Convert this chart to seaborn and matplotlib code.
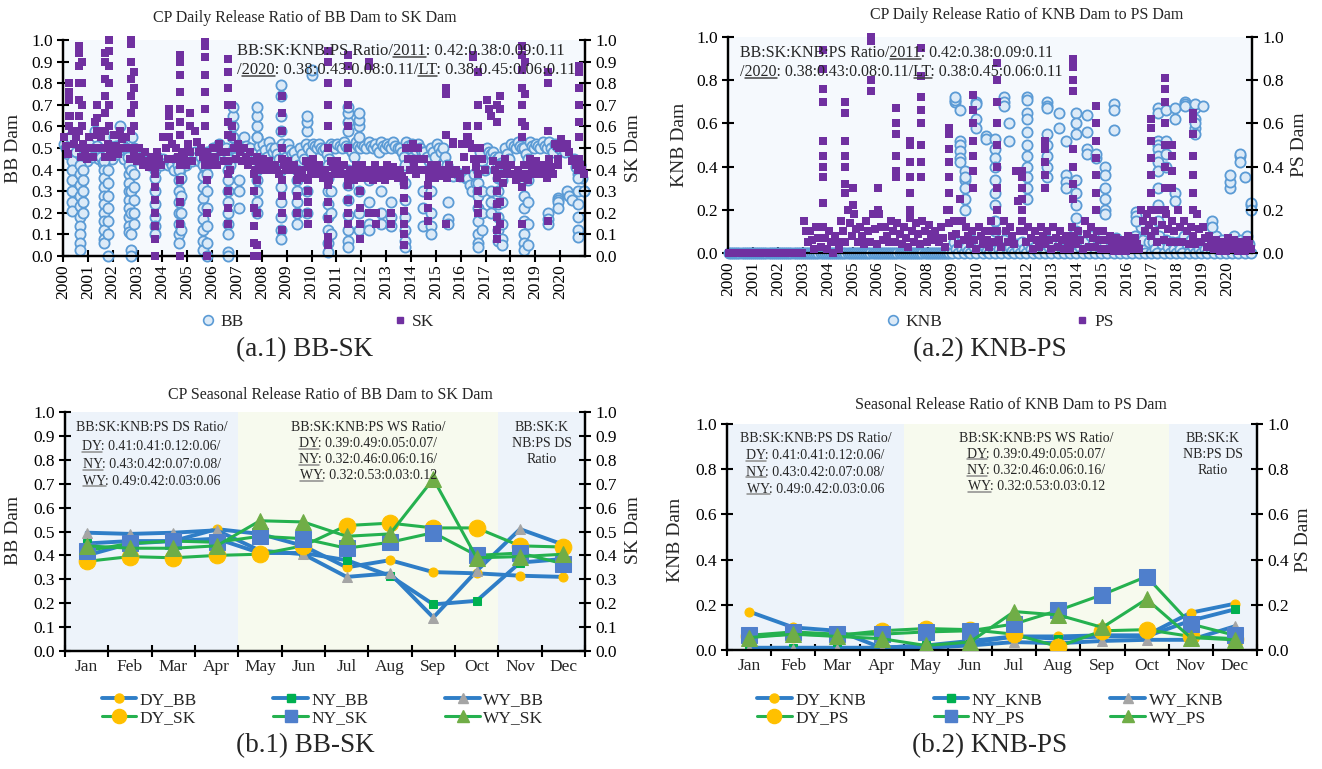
import numpy as np
import matplotlib
matplotlib.use("Agg")
import matplotlib.pyplot as plt
import seaborn as sns
from matplotlib.lines import Line2D
from matplotlib.ticker import FormatStrFormatter

# ---------------- data ----------------
years = [str(y) for y in range(2000, 2021)]
months = ['Jan', 'Feb', 'Mar', 'Apr', 'May', 'Jun', 'Jul', 'Aug', 'Sep', 'Oct', 'Nov', 'Dec']

# monthly samples of the daily release ratio (one row per year, 2000..2020)
bb_monthly = [
    0.52, 0.50, 0.47, 0.55, 0.50, 0.45, 0.48, 0.44, 0.40, 0.50, 0.47, 0.44,
    0.52, 0.49, 0.46, 0.58, 0.51, 0.45, 0.46, 0.43, 0.40, 0.55, 0.50, 0.45,
    0.55, 0.51, 0.47, 0.60, 0.52, 0.45, 0.50, 0.46, 0.42, 0.55, 0.50, 0.45,
    0.48, 0.46, 0.44, 0.46, 0.44, 0.42, 0.45, 0.43, 0.40, 0.46, 0.44, 0.42,
    0.45, 0.43, 0.42, 0.44, 0.42, 0.40, 0.45, 0.42, 0.40, 0.46, 0.44, 0.42,
    0.47, 0.45, 0.44, 0.48, 0.46, 0.44, 0.46, 0.43, 0.40, 0.48, 0.46, 0.44,
    0.50, 0.47, 0.45, 0.52, 0.49, 0.46, 0.50, 0.46, 0.42, 0.55, 0.50, 0.46,
    0.52, 0.49, 0.46, 0.55, 0.51, 0.47, 0.50, 0.47, 0.45, 0.55, 0.51, 0.47,
    0.52, 0.49, 0.46, 0.53, 0.50, 0.48, 0.50, 0.47, 0.45, 0.52, 0.49, 0.46,
    0.52, 0.49, 0.47, 0.48, 0.45, 0.42, 0.50, 0.47, 0.45, 0.52, 0.50, 0.48,
    0.52, 0.51, 0.50, 0.52, 0.50, 0.49, 0.50, 0.47, 0.45, 0.52, 0.51, 0.50,
    0.52, 0.51, 0.50, 0.53, 0.51, 0.50, 0.50, 0.48, 0.46, 0.53, 0.51, 0.50,
    0.52, 0.51, 0.50, 0.53, 0.51, 0.50, 0.52, 0.50, 0.48, 0.53, 0.51, 0.50,
    0.52, 0.51, 0.50, 0.53, 0.51, 0.50, 0.50, 0.48, 0.46, 0.53, 0.51, 0.50,
    0.52, 0.50, 0.49, 0.52, 0.50, 0.48, 0.48, 0.46, 0.44, 0.50, 0.48, 0.46,
    0.52, 0.50, 0.48, 0.50, 0.46, 0.42, 0.40, 0.38, 0.37, 0.39, 0.38, 0.37,
    0.38, 0.37, 0.36, 0.36, 0.33, 0.30, 0.38, 0.34, 0.30, 0.48, 0.44, 0.40,
    0.50, 0.48, 0.47, 0.48, 0.46, 0.45, 0.46, 0.43, 0.40, 0.50, 0.47, 0.45,
    0.52, 0.51, 0.50, 0.53, 0.51, 0.50, 0.50, 0.47, 0.45, 0.53, 0.51, 0.50,
    0.52, 0.51, 0.50, 0.53, 0.51, 0.50, 0.53, 0.50, 0.48, 0.52, 0.51, 0.50,
    0.52, 0.50, 0.48, 0.30, 0.28, 0.26, 0.45, 0.41, 0.38, 0.42, 0.36, 0.30,
]
sk_monthly = [
    0.55, 0.51, 0.47, 0.65, 0.58, 0.52, 0.55, 0.50, 0.46, 0.52, 0.48, 0.45,
    0.55, 0.50, 0.46, 0.62, 0.56, 0.50, 0.55, 0.50, 0.46, 0.52, 0.49, 0.46,
    0.56, 0.51, 0.47, 0.58, 0.54, 0.50, 0.55, 0.50, 0.45, 0.50, 0.47, 0.44,
    0.50, 0.46, 0.42, 0.48, 0.44, 0.41, 0.46, 0.43, 0.40, 0.48, 0.45, 0.42,
    0.55, 0.50, 0.45, 0.60, 0.52, 0.45, 0.50, 0.46, 0.42, 0.48, 0.45, 0.42,
    0.52, 0.48, 0.44, 0.58, 0.53, 0.48, 0.50, 0.46, 0.42, 0.48, 0.45, 0.42,
    0.50, 0.46, 0.42, 0.52, 0.48, 0.44, 0.48, 0.44, 0.40, 0.55, 0.50, 0.45,
    0.52, 0.48, 0.44, 0.50, 0.46, 0.42, 0.48, 0.44, 0.40, 0.46, 0.43, 0.40,
    0.45, 0.42, 0.40, 0.44, 0.42, 0.40, 0.42, 0.40, 0.38, 0.45, 0.42, 0.40,
    0.44, 0.42, 0.40, 0.42, 0.40, 0.38, 0.40, 0.38, 0.36, 0.44, 0.41, 0.38,
    0.45, 0.41, 0.38, 0.42, 0.39, 0.36, 0.40, 0.37, 0.35, 0.44, 0.41, 0.38,
    0.44, 0.41, 0.38, 0.42, 0.38, 0.35, 0.40, 0.37, 0.35, 0.42, 0.39, 0.36,
    0.42, 0.39, 0.36, 0.40, 0.37, 0.35, 0.42, 0.39, 0.36, 0.40, 0.37, 0.35,
    0.42, 0.40, 0.37, 0.41, 0.38, 0.36, 0.40, 0.37, 0.35, 0.50, 0.45, 0.40,
    0.45, 0.41, 0.38, 0.50, 0.45, 0.40, 0.45, 0.40, 0.36, 0.42, 0.39, 0.36,
    0.42, 0.40, 0.37, 0.40, 0.38, 0.36, 0.42, 0.40, 0.38, 0.40, 0.38, 0.36,
    0.52, 0.46, 0.40, 0.55, 0.52, 0.50, 0.45, 0.41, 0.38, 0.50, 0.45, 0.40,
    0.72, 0.68, 0.65, 0.44, 0.40, 0.36, 0.42, 0.38, 0.34, 0.45, 0.41, 0.38,
    0.42, 0.38, 0.35, 0.40, 0.36, 0.32, 0.42, 0.38, 0.35, 0.45, 0.41, 0.38,
    0.44, 0.41, 0.38, 0.42, 0.39, 0.36, 0.45, 0.41, 0.38, 0.52, 0.51, 0.50,
    0.54, 0.52, 0.50, 0.52, 0.48, 0.44, 0.45, 0.42, 0.40, 0.42, 0.40, 0.38,
]
knb_monthly = (
    [0.0] * 108 + [
    0.05, 0.02, 0.00, 0.04, 0.02, 0.00, 0.03, 0.01, 0.00, 0.06, 0.03, 0.00,
    0.05, 0.02, 0.00, 0.03, 0.01, 0.00, 0.04, 0.02, 0.00, 0.05, 0.02, 0.00,
    0.06, 0.03, 0.00, 0.03, 0.01, 0.00, 0.04, 0.02, 0.00, 0.05, 0.02, 0.00,
    0.04, 0.02, 0.00, 0.03, 0.01, 0.00, 0.05, 0.02, 0.00, 0.06, 0.03, 0.00,
    0.05, 0.02, 0.00, 0.04, 0.02, 0.00, 0.06, 0.03, 0.00, 0.08, 0.04, 0.00,
    0.06, 0.03, 0.00, 0.05, 0.02, 0.00, 0.08, 0.04, 0.00, 0.07, 0.03, 0.00,
    0.08, 0.04, 0.00, 0.06, 0.03, 0.00, 0.07, 0.03, 0.00, 0.05, 0.02, 0.00,
    0.06, 0.03, 0.00, 0.08, 0.04, 0.00, 0.12, 0.06, 0.00, 0.10, 0.05, 0.00,
    0.05, 0.02, 0.00, 0.08, 0.04, 0.00, 0.06, 0.03, 0.00, 0.05, 0.02, 0.00,
    0.05, 0.02, 0.00, 0.08, 0.04, 0.00, 0.06, 0.03, 0.00, 0.04, 0.02, 0.00,
    0.04, 0.02, 0.00, 0.05, 0.02, 0.00, 0.08, 0.04, 0.00, 0.06, 0.03, 0.00,
    0.04, 0.02, 0.00, 0.08, 0.04, 0.00, 0.06, 0.03, 0.00, 0.08, 0.04, 0.00,
])
ps_monthly = (
    [0.0] * 36 + [
    0.15, 0.10, 0.05, 0.10, 0.06, 0.02, 0.12, 0.07, 0.03, 0.12, 0.07, 0.02,
    0.10, 0.05, 0.00, 0.08, 0.05, 0.02, 0.15, 0.10, 0.05, 0.20, 0.14, 0.08,
    0.18, 0.11, 0.05, 0.12, 0.08, 0.04, 0.15, 0.10, 0.05, 0.18, 0.11, 0.04,
    0.18, 0.12, 0.06, 0.12, 0.08, 0.05, 0.15, 0.10, 0.05, 0.14, 0.09, 0.04,
    0.12, 0.07, 0.03, 0.16, 0.10, 0.05, 0.14, 0.09, 0.04, 0.15, 0.10, 0.05,
    0.13, 0.09, 0.06, 0.10, 0.07, 0.05, 0.12, 0.07, 0.03, 0.20, 0.14, 0.08,
    0.15, 0.09, 0.04, 0.25, 0.15, 0.06, 0.12, 0.08, 0.04, 0.10, 0.06, 0.02,
    0.12, 0.08, 0.04, 0.10, 0.06, 0.03, 0.15, 0.10, 0.05, 0.10, 0.06, 0.03,
    0.15, 0.10, 0.05, 0.12, 0.08, 0.04, 0.38, 0.24, 0.10, 0.15, 0.10, 0.05,
    0.12, 0.07, 0.02, 0.10, 0.06, 0.03, 0.12, 0.08, 0.04, 0.10, 0.06, 0.02,
    0.12, 0.07, 0.03, 0.10, 0.06, 0.02, 0.08, 0.05, 0.02, 0.12, 0.08, 0.04,
    0.10, 0.06, 0.02, 0.15, 0.09, 0.03, 0.12, 0.07, 0.03, 0.10, 0.06, 0.02,
    0.10, 0.06, 0.02, 0.08, 0.04, 0.01, 0.07, 0.04, 0.01, 0.06, 0.03, 0.01,
    0.08, 0.05, 0.02, 0.07, 0.04, 0.02, 0.20, 0.15, 0.10, 0.18, 0.13, 0.08,
    0.15, 0.10, 0.05, 0.20, 0.13, 0.06, 0.18, 0.11, 0.05, 0.15, 0.10, 0.05,
    0.20, 0.12, 0.05, 0.15, 0.10, 0.04, 0.12, 0.08, 0.04, 0.18, 0.11, 0.05,
    0.12, 0.07, 0.03, 0.08, 0.05, 0.02, 0.06, 0.03, 0.01, 0.05, 0.03, 0.01,
    0.07, 0.04, 0.02, 0.06, 0.03, 0.01, 0.05, 0.03, 0.01, 0.06, 0.04, 0.02,
])

bb_streaks = [
    (2000.35, [0.44, 0.40, 0.35, 0.30, 0.25, 0.21]),
    (2000.70, [0.42, 0.38, 0.33, 0.28, 0.23, 0.18, 0.14, 0.10, 0.06, 0.03]),
    (2000.80, [0.40, 0.35, 0.30, 0.25, 0.20]),
    (2001.65, [0.44, 0.40, 0.36, 0.32, 0.28, 0.24, 0.20, 0.16, 0.12, 0.08, 0.06]),
    (2001.80, [0.40, 0.34, 0.28, 0.22, 0.16, 0.10, 0.00]),
    (2002.65, [0.42, 0.38, 0.34, 0.30, 0.26, 0.22, 0.18, 0.14, 0.11]),
    (2002.75, [0.40, 0.30, 0.20, 0.10, 0.03, 0.00]),
    (2002.85, [0.38, 0.32, 0.26, 0.20, 0.15]),
    (2003.70, [0.36, 0.30, 0.24, 0.18, 0.14, 0.10]),
    (2004.65, [0.40, 0.35, 0.30, 0.25, 0.20, 0.15, 0.10, 0.06]),
    (2004.75, [0.36, 0.28, 0.20, 0.12]),
    (2005.65, [0.42, 0.37, 0.32, 0.27, 0.22, 0.17, 0.12, 0.07, 0.03]),
    (2005.80, [0.38, 0.30, 0.22, 0.14, 0.06, 0.00]),
    (2006.65, [0.45, 0.40, 0.35, 0.30, 0.25, 0.20, 0.15, 0.10, 0.02, 0.00]),
    (2006.85, [0.55, 0.60, 0.65, 0.69]),
    (2007.10, [0.35, 0.30, 0.22]),
    (2007.80, [0.55, 0.60, 0.65, 0.69, 0.40, 0.35, 0.30, 0.25, 0.20]),
    (2008.75, [0.58, 0.65, 0.74, 0.79, 0.40, 0.32, 0.25, 0.18, 0.12, 0.08]),
    (2009.40, [0.40, 0.35, 0.30, 0.25, 0.20, 0.15]),
    (2009.80, [0.58, 0.62, 0.65, 0.40, 0.30, 0.20]),
    (2010.00, [0.84, 0.86]),
    (2010.65, [0.42, 0.36, 0.30, 0.24, 0.18, 0.12, 0.06, 0.02]),
    (2010.80, [0.40, 0.30, 0.20, 0.10]),
    (2011.45, [0.58, 0.62, 0.66, 0.69, 0.40, 0.33, 0.26, 0.19, 0.12, 0.07, 0.04]),
    (2011.90, [0.55, 0.60, 0.63, 0.66, 0.40, 0.30, 0.20, 0.12]),
    (2012.30, [0.35, 0.25, 0.15, 0.12]),
    (2012.80, [0.30, 0.20, 0.15]),
    (2013.20, [0.25, 0.18, 0.14]),
    (2013.75, [0.42, 0.34, 0.26, 0.18, 0.12, 0.07, 0.04]),
    (2014.50, [0.30, 0.22, 0.14]),
    (2014.80, [0.40, 0.30, 0.20, 0.14, 0.10]),
    (2015.50, [0.25, 0.17, 0.15]),
    (2016.70, [0.40, 0.34, 0.28, 0.22, 0.16, 0.10, 0.06, 0.04]),
    (2016.85, [0.30, 0.20, 0.12]),
    (2017.20, [0.30, 0.25, 0.20]),
    (2017.50, [0.42, 0.36, 0.30, 0.24, 0.18, 0.12, 0.07]),
    (2017.65, [0.35, 0.25, 0.15, 0.08, 0.05]),
    (2018.55, [0.40, 0.35, 0.28, 0.22, 0.16, 0.10, 0.06, 0.03]),
    (2018.70, [0.35, 0.25, 0.15, 0.05]),
    (2019.50, [0.20, 0.17, 0.15]),
    (2019.90, [0.27, 0.26, 0.25, 0.22]),
    (2020.70, [0.42, 0.36, 0.30, 0.24, 0.18, 0.12, 0.09]),
    (2020.95, [0.30]),
]
sk_streaks = [
    (2000.25, [0.60, 0.65, 0.72, 0.80, 0.76]),
    (2000.65, [0.58, 0.65, 0.72, 0.80, 0.88, 0.94, 0.97]),
    (2000.75, [0.60, 0.70, 0.80, 0.90]),
    (2001.35, [0.58, 0.64, 0.70]),
    (2001.70, [0.58, 0.66, 0.74, 0.82, 0.90, 0.94]),
    (2001.85, [0.60, 0.70, 0.80, 0.88, 0.95, 1.00]),
    (2002.75, [0.58, 0.66, 0.74, 0.82, 0.90, 0.98, 1.00]),
    (2002.85, [0.60, 0.70, 0.78, 0.85]),
    (2003.70, [0.38, 0.32, 0.26, 0.20, 0.14, 0.08, 0.00]),
    (2004.25, [0.55, 0.60, 0.65, 0.68]),
    (2004.70, [0.56, 0.62, 0.68, 0.76, 0.84, 0.90, 0.93, 0.35, 0.25, 0.15, 0.00]),
    (2005.10, [0.60, 0.66]),
    (2005.70, [0.60, 0.68, 0.76, 0.84, 0.92, 0.97, 0.99]),
    (2005.80, [0.35, 0.20, 0.00]),
    (2006.65, [0.56, 0.62, 0.70, 0.78, 0.85, 0.91, 0.38, 0.30, 0.22, 0.15]),
    (2006.80, [0.60, 0.70]),
    (2007.70, [0.38, 0.30, 0.22, 0.14, 0.06, 0.00]),
    (2007.80, [0.35, 0.20, 0.05, 0.00]),
    (2008.80, [0.50, 0.58, 0.66, 0.74, 0.35, 0.28, 0.20, 0.12]),
    (2009.40, [0.35, 0.28, 0.20]),
    (2009.85, [0.35, 0.30, 0.25, 0.20, 0.15]),
    (2010.65, [0.50, 0.60, 0.70, 0.80, 0.90, 0.95, 0.33, 0.25, 0.17, 0.09, 0.05]),
    (2011.45, [0.50, 0.60, 0.70, 0.80, 0.88, 0.93, 0.33, 0.26, 0.20, 0.15]),
    (2011.95, [0.30, 0.22, 0.15, 0.08]),
    (2012.30, [0.88, 0.90, 0.20]),
    (2012.60, [0.15, 0.20]),
    (2013.20, [0.15, 0.20]),
    (2013.70, [0.33, 0.27, 0.21, 0.15, 0.10, 0.05]),
    (2014.10, [0.50, 0.52]),
    (2014.70, [0.33, 0.28, 0.22, 0.16]),
    (2015.40, [0.75, 0.78, 0.56, 0.15]),
    (2015.70, [0.52, 0.53]),
    (2016.25, [0.60, 0.55]),
    (2016.50, [0.92, 0.93]),
    (2016.70, [0.30, 0.24, 0.20, 0.60, 0.70, 0.85]),
    (2017.45, [0.30, 0.24, 0.18, 0.12, 0.08, 0.62, 0.70]),
    (2017.60, [0.25, 0.15, 0.68, 0.74]),
    (2018.45, [0.55, 0.62, 0.70, 0.78, 0.86, 0.93, 0.97, 0.15]),
    (2018.60, [0.60, 0.75, 0.90]),
    (2019.50, [0.80, 0.85, 0.16, 0.58]),
    (2019.90, [0.45, 0.42]),
    (2020.75, [0.55, 0.62, 0.70, 0.78, 0.85, 0.88, 0.45]),
]
knb_streaks = [
    (2009.10, [0.70, 0.71, 0.72]),
    (2009.30, [0.66, 0.52, 0.50, 0.47, 0.44, 0.42]),
    (2009.50, [0.38, 0.34, 0.30, 0.25, 0.20, 0.35]),
    (2009.95, [0.70, 0.69, 0.62, 0.58]),
    (2010.35, [0.54, 0.53]),
    (2010.70, [0.53, 0.48, 0.44, 0.40, 0.34, 0.28, 0.22, 0.15, 0.10]),
    (2011.05, [0.72, 0.70, 0.68]),
    (2011.25, [0.52, 0.60]),
    (2012.00, [0.72, 0.71, 0.65, 0.62, 0.56, 0.50, 0.45, 0.40, 0.35, 0.30, 0.25]),
    (2012.80, [0.70, 0.68, 0.67, 0.55, 0.50, 0.45, 0.40, 0.35]),
    (2013.25, [0.65, 0.58]),
    (2013.55, [0.36, 0.33, 0.30, 0.52]),
    (2013.95, [0.65, 0.60, 0.55, 0.34, 0.28, 0.22, 0.16, 0.10]),
    (2014.40, [0.64, 0.56, 0.48, 0.46]),
    (2014.75, [0.44, 0.46]),
    (2015.10, [0.40, 0.36, 0.30, 0.25, 0.20, 0.18]),
    (2015.45, [0.69, 0.66, 0.57]),
    (2016.35, [0.19, 0.17, 0.15]),
    (2017.25, [0.67, 0.65, 0.52, 0.50, 0.48, 0.45, 0.42, 0.38, 0.30, 0.22, 0.15]),
    (2017.55, [0.66, 0.52, 0.46, 0.40]),
    (2017.90, [0.67, 0.62, 0.28, 0.24]),
    (2018.30, [0.70, 0.69, 0.68]),
    (2018.70, [0.67, 0.62, 0.58, 0.55, 0.60, 0.69]),
    (2019.05, [0.68]),
    (2019.40, [0.15, 0.12]),
    (2020.10, [0.30, 0.33, 0.36]),
    (2020.50, [0.45, 0.46, 0.42]),
    (2020.70, [0.35]),
    (2020.95, [0.22, 0.23, 0.20]),
]
ps_streaks = [
    (2003.80, [0.23, 0.35, 0.40, 0.45, 0.52, 0.70, 0.76, 0.85, 0.94]),
    (2004.70, [0.28, 0.32, 0.40, 0.45, 0.52, 0.65, 0.70]),
    (2005.00, [0.30, 0.22]),
    (2005.75, [0.75, 0.80, 0.98, 1.00]),
    (2006.00, [0.30, 0.20]),
    (2006.75, [0.35, 0.38, 0.45, 0.55, 0.60, 0.67]),
    (2007.30, [0.20, 0.28, 0.35, 0.42, 0.50, 0.52]),
    (2007.75, [0.35, 0.42, 0.50, 0.60, 0.66, 0.72, 0.82, 0.95]),
    (2008.85, [0.20, 0.28, 0.35, 0.42, 0.48, 0.55, 0.58]),
    (2009.80, [0.30, 0.38, 0.45, 0.52, 0.60, 0.66, 0.73]),
    (2010.80, [0.20, 0.30, 0.40, 0.50, 0.60, 0.70, 0.80, 0.88]),
    (2011.80, [0.20, 0.25, 0.30, 0.35, 0.38]),
    (2012.72, [0.30, 0.36, 0.42, 0.48, 0.52]),
    (2013.82, [0.25, 0.32, 0.40, 0.48, 0.75, 0.80, 0.86, 0.90]),
    (2014.75, [0.20, 0.28, 0.36, 0.44, 0.52, 0.60, 0.68]),
    (2016.95, [0.20, 0.28, 0.36, 0.44, 0.52, 0.58, 0.62]),
    (2017.50, [0.20, 0.30, 0.40, 0.50, 0.60, 0.70, 0.76, 0.81]),
    (2017.80, [0.30, 0.38, 0.45, 0.50]),
    (2018.65, [0.20, 0.28, 0.36, 0.45, 0.55, 0.62, 0.65]),
]

# seasonal (monthly mean) release ratios
dy_bb = [0.40, 0.45, 0.46, 0.51, 0.49, 0.44, 0.35, 0.38, 0.33, 0.325, 0.315, 0.31]
ny_bb = [0.45, 0.46, 0.46, 0.47, 0.41, 0.41, 0.38, 0.315, 0.195, 0.21, 0.37, 0.385]
wy_bb = [0.495, 0.49, 0.495, 0.505, 0.42, 0.405, 0.31, 0.325, 0.14, 0.335, 0.51, 0.445]
dy_sk = [0.375, 0.395, 0.39, 0.40, 0.405, 0.44, 0.525, 0.535, 0.515, 0.515, 0.44, 0.435]
ny_sk = [0.42, 0.45, 0.46, 0.455, 0.48, 0.47, 0.43, 0.455, 0.495, 0.40, 0.41, 0.365]
wy_sk = [0.44, 0.43, 0.43, 0.44, 0.545, 0.54, 0.48, 0.49, 0.72, 0.39, 0.395, 0.405]

dy_knb = [0.17, 0.10, 0.085, 0.01, 0.02, 0.04, 0.06, 0.06, 0.065, 0.065, 0.165, 0.205]
ny_knb = [0.01, 0.01, 0.01, 0.01, 0.02, 0.03, 0.06, 0.05, 0.06, 0.06, 0.13, 0.18]
wy_knb = [0.005, 0.005, 0.005, 0.005, 0.01, 0.02, 0.035, 0.03, 0.04, 0.045, 0.045, 0.105]
dy_ps = [0.06, 0.07, 0.065, 0.085, 0.095, 0.09, 0.07, 0.015, 0.085, 0.09, 0.06, 0.05]
ny_ps = [0.065, 0.08, 0.07, 0.07, 0.08, 0.085, 0.115, 0.175, 0.245, 0.325, 0.115, 0.065]
wy_ps = [0.055, 0.07, 0.06, 0.05, 0.02, 0.035, 0.17, 0.155, 0.10, 0.225, 0.055, 0.045]

dry1 = ('Jan', 'Apr')
wet = ('May', 'Oct')
dry2 = ('Nov', 'Dec')

# ---------------- style ----------------
sns.set_style("ticks")
plt.rcParams['font.family'] = ['Liberation Serif', 'DejaVu Serif']
plt.rcParams['axes.linewidth'] = 1.6

C_BB_FACE = '#DCEAF7'
C_BB_EDGE = '#5B9BD5'
C_PURPLE = '#7030A0'
C_BG = '#F5F9FD'
C_BLUEBG = '#EDF3FA'
C_GREENBG = '#F7FAEE'
C_LBLUE = '#2F7EC7'
C_LGREEN = '#25B14F'
C_YEL = '#FFC000'
C_SQG = '#00B050'
C_GRAY = '#A5A5A5'
C_SQB = '#4F7FCC'
C_TRIG = '#70AD47'

W, H = 1322, 769
fig = plt.figure(figsize=(W / 100, H / 100), dpi=100)


def rect(l, r, t, b):
    return [l / W, 1 - b / H, (r - l) / W, (b - t) / H]


def expand(monthly, streaks):
    t = list(2000 + (np.arange(len(monthly)) + 0.5) / 12)
    v = list(monthly)
    for ts, vals in streaks:
        t += [ts] * len(vals)
        v += vals
    return np.array(t), np.array(v)


ul_jobs = []


def utext(ax, x, y, s, fs, ha, unders, col):
    t = ax.text(x, y, s, fontsize=fs, ha=ha, va='center', zorder=8)
    ul_jobs.append((t, s, unders, fs, col))


def style_ax(ax):
    ax.tick_params(axis='both', direction='inout', length=8, width=1.5,
                   labelsize=12.5, colors='black')
    ax.spines['top'].set_visible(False)
    for s in ['left', 'right', 'bottom']:
        ax.spines[s].set_color('black')


def daily_panel(r, lt_m, lt_s, rt_m, rt_s, step, title, title_x, title_y,
                llab, rlab, lab_xl, lab_xr, lab_y, ann_x, ann_y, ann_fs,
                leg_labels, leg_x, leg_cs, cap, cap_x):
    ax = fig.add_axes(r)
    ax.set_facecolor(C_BG)
    t1, v1 = expand(lt_m, lt_s)
    sns.scatterplot(x=t1, y=v1, ax=ax, marker='o', s=54, color=C_BB_FACE,
                    edgecolor=C_BB_EDGE, linewidth=1.3, clip_on=False,
                    legend=False, zorder=3)
    ax2 = ax.twinx()
    t2, v2 = expand(rt_m, rt_s)
    sns.scatterplot(x=t2, y=v2, ax=ax2, marker='s', s=38, color=C_PURPLE,
                    linewidth=0, clip_on=False, legend=False, zorder=3)
    ticks = np.round(np.arange(0, 1.0001, step), 2)
    for a in (ax, ax2):
        a.set_ylim(0, 1)
        a.set_xlim(2000, 2021)
        a.set_yticks(ticks)
        a.yaxis.set_major_formatter(FormatStrFormatter('%.1f'))
        style_ax(a)
        a.set_ylabel('')
    ax.set_xticks([int(y) for y in years])
    ax.set_xticklabels(years, rotation=90, fontsize=12.5)
    ax.tick_params(axis='x', pad=2)
    fig.text(title_x / W, 1 - title_y / H, title, ha='center', va='center', fontsize=11.5)
    fig.text(lab_xl / W, 1 - lab_y / H, llab, rotation=90, ha='center', va='center', fontsize=14)
    fig.text(lab_xr / W, 1 - lab_y / H, rlab, rotation=90, ha='center', va='center', fontsize=14)
    l1 = 'BB:SK:KNB:PS Ratio/2011: 0.42:0.38:0.09:0.11'
    l2 = '/2020: 0.38:0.43:0.08:0.11/LT: 0.38:0.45:0.06:0.11'
    utext(ax2, ann_x, ann_y[0], l1, ann_fs, 'left', ['2011'], '#444444')
    utext(ax2, ann_x, ann_y[1], l2, ann_fs, 'left', ['2020', 'LT'], '#444444')
    handles = [Line2D([], [], ls='', marker='o', ms=7, mfc=C_BB_FACE, mec=C_BB_EDGE, mew=1.2),
               Line2D([], [], ls='', marker='s', ms=4.5, mfc=C_PURPLE, mec=C_PURPLE)]
    fig.legend(handles, leg_labels, loc='center', bbox_to_anchor=(leg_x / W, 1 - 322 / H),
               ncol=2, frameon=False, fontsize=12.5, handlelength=0.8,
               handletextpad=0.3, columnspacing=leg_cs)
    fig.text(cap_x / W, 1 - 350 / H, cap, ha='center', va='center', fontsize=19.5)
    return ax, ax2


def seasonal_panel(r, l_series, r_series, step, title, title_x, title_y,
                   llab, rlab, lab_xl, lab_xr, lab_y, texts, leg_x, leg_cs, cap, cap_x, names):
    ax = fig.add_axes(r)
    ax.set_facecolor('white')
    x = np.arange(len(months))
    for (a, b), c in ((dry1, C_BLUEBG), (wet, C_GREENBG), (dry2, C_BLUEBG)):
        ax.axvspan(months.index(a) - 0.5, months.index(b) + 0.5, color=c, lw=0, zorder=0)
    mk_l = [('o', 6.5, C_YEL), ('s', 5.5, C_SQG), ('^', 6.5, C_GRAY)]
    mk_r = [('o', 12, C_YEL), ('s', 11, C_SQB), ('^', 11, C_TRIG)]
    for vals, (m, ms, c) in zip(l_series, mk_l):
        sns.lineplot(x=x, y=vals, ax=ax, color=C_LBLUE, lw=2.8, marker=m, markersize=ms,
                     markerfacecolor=c, markeredgecolor=c, legend=False, zorder=3)
    ax2 = ax.twinx()
    for vals, (m, ms, c) in zip(r_series, mk_r):
        sns.lineplot(x=x, y=vals, ax=ax2, color=C_LGREEN, lw=2.2, marker=m, markersize=ms,
                     markerfacecolor=c, markeredgecolor=c, legend=False, zorder=3)
    ticks = np.round(np.arange(0, 1.0001, step), 2)
    for a in (ax, ax2):
        a.set_ylim(0, 1)
        a.set_xlim(-0.5, len(months) - 0.5)
        a.set_yticks(ticks)
        a.yaxis.set_major_formatter(FormatStrFormatter('%.1f'))
        style_ax(a)
        a.set_ylabel('')
    ax.set_xticks(np.arange(len(months) + 1) - 0.5)
    ax.set_xticklabels([])
    ax.set_xticks(x, minor=True)
    ax.set_xticklabels(months, minor=True, fontsize=12.5)
    ax.tick_params(axis='x', which='minor', length=0, pad=6)
    fig.text(title_x / W, 1 - title_y / H, title, ha='center', va='center', fontsize=11.5)
    fig.text(lab_xl / W, 1 - lab_y / H, llab, rotation=90, ha='center', va='center', fontsize=14)
    fig.text(lab_xr / W, 1 - lab_y / H, rlab, rotation=90, ha='center', va='center', fontsize=14)
    for (tx, ty, s, und) in texts:
        utext(ax2, tx, ty, s, 10, 'center', und, '#8C8C8C')
    handles = []
    labels = []
    for k in range(3):
        m, ms, c = mk_l[k]
        handles.append(Line2D([], [], color=C_LBLUE, lw=2.8, marker=m, ms=ms, mfc=c, mec=c))
        labels.append(names[0][k])
        m, ms, c = mk_r[k]
        handles.append(Line2D([], [], color=C_LGREEN, lw=2.2, marker=m, ms=ms * 0.85, mfc=c, mec=c))
        labels.append(names[1][k])
    fig.legend(handles, labels, loc='center', bbox_to_anchor=(leg_x / W, 1 - 709 / H),
               ncol=3, frameon=False, fontsize=12.5, handlelength=2.0,
               handletextpad=0.2, columnspacing=leg_cs, labelspacing=0.1)
    fig.text(cap_x / W, 1 - 746 / H, cap, ha='center', va='center', fontsize=19.5)
    return ax, ax2


daily_panel(rect(63, 585, 40, 256), bb_monthly, bb_streaks, sk_monthly, sk_streaks, 0.1,
            'CP Daily Release Ratio of BB Dam to SK Dam', 305, 18,
            'BB Dam', 'SK Dam', 14, 634, 148, 2007.0, (0.949, 0.861), 12,
            ['BB', 'SK'], 318, 8.6, '(a.1) BB-SK', 305)
daily_panel(rect(728, 1252, 37, 253), knb_monthly, knb_streaks, ps_monthly, ps_streaks, 0.2,
            'CP Daily Release Ratio of KNB Dam to PS Dam', 1027, 15,
            'KNB Dam', 'PS Dam', 680, 1300, 145, 2000.5, (0.926, 0.838), 11.5,
            ['KNB', 'PS'], 1000, 7.7, '(a.2) KNB-PS', 990)

ds_lines = ['BB:SK:KNB:PS DS Ratio/', 'DY: 0.41:0.41:0.12:0.06/', 'NY: 0.43:0.42:0.07:0.08/',
            'WY: 0.49:0.42:0.03:0.06']
ws_lines = ['BB:SK:KNB:PS WS Ratio/', 'DY: 0.39:0.49:0.05:0.07/', 'NY: 0.32:0.46:0.06:0.16/',
            'WY: 0.32:0.53:0.03:0.12']
ds2_lines = ['BB:SK:K', 'NB:PS DS', 'Ratio']
unders = [[], ['DY'], ['NY'], ['WY']]


def region_texts(ys_l, ys_m, ys_r):
    out = []
    for s, y, u in zip(ds_lines, ys_l, unders):
        out.append((1.5, y, s, u))
    for s, y, u in zip(ws_lines, ys_m, unders):
        out.append((6.5, y, s, u))
    for s, y in zip(ds2_lines, ys_r):
        out.append((10.5, y, s, []))
    return out


seasonal_panel(rect(65, 585, 412, 651), [dy_bb, ny_bb, wy_bb], [dy_sk, ny_sk, wy_sk], 0.1,
               'CP Seasonal Release Ratio of BB Dam to SK Dam', 330, 395,
               'BB Dam', 'SK Dam', 14, 634, 530,
               region_texts([0.935, 0.855, 0.78, 0.71], [0.935, 0.868, 0.80, 0.733], [0.935, 0.868, 0.80]),
               323, 4.4, '(b.1) BB-SK', 305,
               (['DY_BB', 'NY_BB', 'WY_BB'], ['DY_SK', 'NY_SK', 'WY_SK']))
seasonal_panel(rect(727, 1257, 424, 650), [dy_knb, ny_knb, wy_knb], [dy_ps, ny_ps, wy_ps], 0.2,
               'Seasonal Release Ratio of KNB Dam to PS Dam', 1011, 405,
               'KNB Dam', 'PS Dam', 676, 1303, 540,
               region_texts([0.934, 0.86, 0.786, 0.712], [0.938, 0.867, 0.794, 0.723], [0.934, 0.864, 0.794]),
               990, 3.9, '(b.2) KNB-PS', 990,
               (['DY_KNB', 'NY_KNB', 'WY_KNB'], ['DY_PS', 'NY_PS', 'WY_PS']))

# ---------------- underlines ----------------
fig.canvas.draw()
rend = fig.canvas.get_renderer()


def text_w(s, fs):
    if not s:
        return 0.0
    tmp = fig.text(0, 0, s, fontsize=fs)
    w = tmp.get_window_extent(rend).width
    tmp.remove()
    return w


for t, s, und, fs, col in ul_jobs:
    bb = t.get_window_extent(rend)
    for sub in und:
        i = s.index(sub)
        x0 = bb.x0 + text_w(s[:i], fs)
        x1 = bb.x0 + text_w(s[:i + len(sub)], fs)
        y = bb.y0 + 0.10 * fs * 100 / 72
        fig.add_artist(Line2D([x0 / W, x1 / W], [y / H, y / H], transform=fig.transFigure,
                              color=col, lw=1.1))

fig.savefig('out.png', dpi=100)
